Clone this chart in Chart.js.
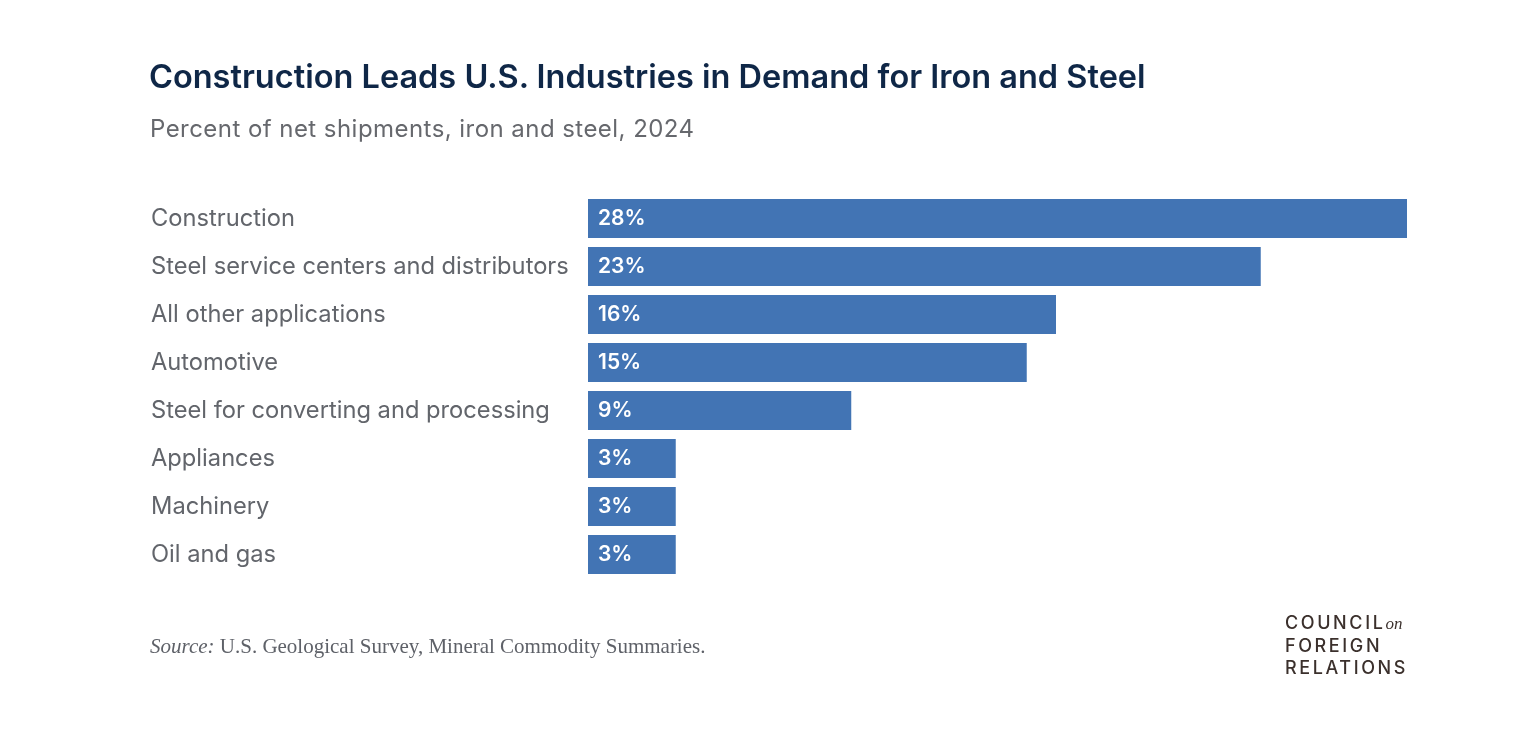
<!DOCTYPE html>
<html>
<head>
<meta charset="utf-8">
<script src="https://cdn.jsdelivr.net/npm/chart.js@4"></script>
<style>
  html, body { margin:0; padding:0; background:#fff; width:1532px; height:738px; overflow:hidden; }
  #wrap { position:relative; width:1532px; height:738px; }
  canvas { position:absolute; left:0; top:0; }
  .txt { position:absolute; white-space:nowrap; }
  #title { left:149px; top:57px; font-family:Inter, "Noto Sans", sans-serif; font-weight:600; font-size:32.5px; color:#0f2747; }
  #sub { left:150px; top:114px; font-family:Inter, "Noto Sans", sans-serif; font-weight:400; font-size:24px; letter-spacing:0.45px; color:#66686d; }
  #source { left:150px; top:634px; font-family:"Liberation Serif", "DejaVu Serif", serif; font-size:21px; color:#5e6168; }
  #source i { font-style:italic; }
  #logo { left:1285px; top:612px; font-family:Inter, "Noto Sans", sans-serif; font-size:18px; font-weight:500; color:#3b302c; letter-spacing:2.6px; line-height:22px; }
  #logo i { font-family:"Liberation Serif", serif; font-style:italic; letter-spacing:0; font-size:17px; font-weight:400; }
</style>
</head>
<body>
<div id="wrap">
  <canvas id="c" width="1532" height="738"></canvas>
  <div id="title" class="txt">Construction Leads U.S. Industries in Demand for Iron and Steel</div>
  <div id="sub" class="txt">Percent of net shipments, iron and steel, 2024</div>
  <div id="source" class="txt"><i>Source:</i> U.S. Geological Survey, Mineral Commodity Summaries.</div>
  <div id="logo" class="txt">COUNCIL<i>on</i><br>FOREIGN<br>RELATIONS</div>
</div>
<script>
const categories = [
  "Construction",
  "Steel service centers and distributors",
  "All other applications",
  "Automotive",
  "Steel for converting and processing",
  "Appliances",
  "Machinery",
  "Oil and gas"
];
const values = [28, 23, 16, 15, 9, 3, 3, 3];
const valueLabels = ["28%", "23%", "16%", "15%", "9%", "3%", "3%", "3%"];
const axisMin = 0;
const axisMax = 28;

const barColor = "#4274b4";

const valueLabelPlugin = {
  id: "valueLabels",
  afterDatasetsDraw(chart) {
    const ctx = chart.ctx;
    const meta = chart.getDatasetMeta(0);
    ctx.save();
    ctx.fillStyle = "#ffffff";
    ctx.font = "600 21px Inter, 'Noto Sans', sans-serif";
    ctx.textAlign = "left";
    ctx.textBaseline = "middle";
    meta.data.forEach((bar, i) => {
      ctx.fillText(valueLabels[i], bar.base + 10, bar.y);
    });
    ctx.restore();
  }
};

new Chart(document.getElementById("c"), {
  type: "bar",
  data: {
    labels: categories,
    datasets: [{
      data: values,
      backgroundColor: barColor,
      borderWidth: 0,
      categoryPercentage: 1,
      barPercentage: 0.8125
    }]
  },
  options: {
    indexAxis: "y",
    responsive: false,
    animation: false,
    layout: { padding: { left: 151, right: 125, top: 194.5, bottom: 159.5 } },
    plugins: { legend: { display: false }, tooltip: { enabled: false } },
    scales: {
      x: { display: false, min: axisMin, max: axisMax },
      y: {
        grid: { display: false },
        border: { display: false },
        ticks: {
          crossAlign: "far",
          color: "#62656b",
          font: { family: "Inter, 'Noto Sans', sans-serif", size: 23.7 },
          padding: 0
        },
        afterFit(scale) { scale.width = 588 - 151; }
      }
    }
  },
  plugins: [valueLabelPlugin]
});
</script>
</body>
</html>
